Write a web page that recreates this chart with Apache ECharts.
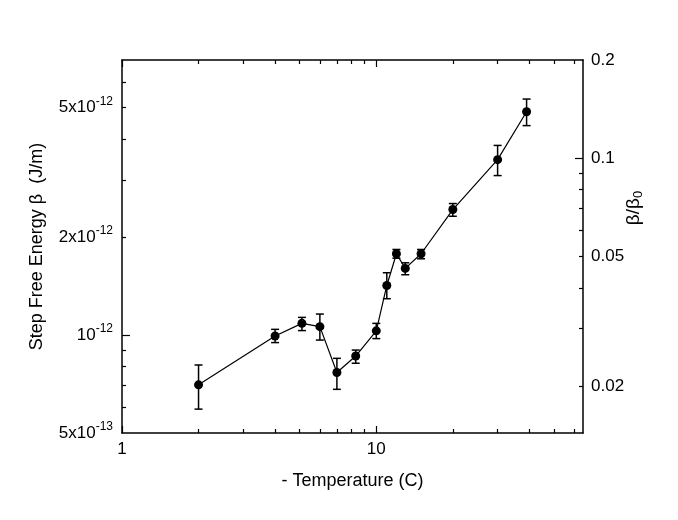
<!DOCTYPE html>
<html>
<head>
<meta charset="utf-8">
<script src="https://cdn.jsdelivr.net/npm/echarts@6/dist/echarts.min.js"></script>
<style>
html, body { margin: 0; padding: 0; background: #fff; }
#chart { width: 678px; height: 520px; }
</style>
</head>
<body>
<div id="chart"></div>
<script>
// data
var temps = [2, 4, 5.1, 6, 7, 8.3, 10, 11, 12, 13, 15, 20, 30, 39];
var beta = [0.703e-12, 0.993e-12, 1.086e-12, 1.061e-12, 0.767e-12, 0.862e-12, 1.03e-12,
	1.42e-12, 1.777e-12, 1.602e-12, 1.777e-12, 2.43e-12, 3.459e-12, 4.855e-12];
var betaLow = [0.592e-12, 0.948e-12, 1.032e-12, 0.965e-12, 0.681e-12, 0.819e-12, 0.975e-12,
	1.293e-12, 1.722e-12, 1.532e-12, 1.715e-12, 2.317e-12, 3.09e-12, 4.40e-12];
var betaHigh = [0.809e-12, 1.041e-12, 1.133e-12, 1.160e-12, 0.848e-12, 0.899e-12, 1.086e-12,
	1.554e-12, 1.832e-12, 1.667e-12, 1.832e-12, 2.535e-12, 3.825e-12, 5.31e-12];

// ticks
var xLabelValues = [1, 10];
var xLabelTexts = ['1', '10'];
var xMajorTicks = [1, 10];
var xMinorTicks = [2, 3, 4, 5, 6, 7, 8, 9, 20, 30, 40, 50, 60];
var yLabelValues = [5e-13, 1e-12, 2e-12, 5e-12];
var yLabelTexts = ['5x10{sup|-13}', '10{sup|-12}', '2x10{sup|-12}', '5x10{sup|-12}'];
var yMajorTicks = [1e-12];
var yMinorTicks = [6e-13, 7e-13, 8e-13, 9e-13, 2e-12, 3e-12, 4e-12, 5e-12, 6e-12];
var rLabelValues = [0.02, 0.05, 0.1, 0.2];
var rLabelTexts = ['0.02', '0.05', '0.1', '0.2'];
var rMajorTicks = [0.1];
var rMinorTicks = [0.02, 0.03, 0.04, 0.05, 0.06, 0.07, 0.08, 0.09];

var xMin = 1, xMax = 65;
var yMin = 5e-13, yMax = 7e-12;
var rMin = 0.01435, rMax = 0.2;

var FONT = 'Liberation Sans';

function pick(values, texts) {
	return function (v) {
		for (var i = 0; i < values.length; i++) {
			if (Math.abs(v - values[i]) <= Math.abs(values[i]) * 1e-6) {
				return texts[i];
			}
		}
		return '';
	};
}

var points = [], bars = [];
for (var i = 0; i < temps.length; i++) {
	points.push([temps[i], beta[i]]);
	bars.push([temps[i], betaLow[i], betaHigh[i]]);
}

function makeAxis(opt) {
	var a = {
		type: 'log',
		logBase: 10,
		min: opt.min,
		max: opt.max,
		position: opt.position,
		splitLine: { show: false },
		axisLine: { show: opt.line, onZero: false, lineStyle: { color: '#000', width: 1.5 } },
		axisTick: {
			show: true,
			inside: true,
			length: opt.tickLen,
			customValues: opt.ticks,
			lineStyle: { color: '#000', width: 1.2 }
		},
		axisLabel: { show: false }
	};
	if (opt.labels) {
		a.axisLabel = {
			show: true,
			customValues: opt.labels,
			formatter: pick(opt.labels, opt.texts),
			margin: opt.margin,
			color: '#000',
			fontFamily: FONT,
			fontSize: 17,
			rich: {
				sup: { fontSize: 12, fontFamily: FONT, color: '#000', verticalAlign: 'top', padding: [0, 0, 12, 0] }
			}
		};
	}
	return a;
}

var myChart = echarts.init(document.getElementById('chart'));

var xAxes = [
	makeAxis({ min: xMin, max: xMax, position: 'bottom', line: true, tickLen: 7, ticks: xMajorTicks,
		labels: xLabelValues, texts: xLabelTexts, margin: 8 }),
	makeAxis({ min: xMin, max: xMax, position: 'bottom', line: false, tickLen: 4, ticks: xMinorTicks }),
	makeAxis({ min: xMin, max: xMax, position: 'top', line: true, tickLen: 7, ticks: xMajorTicks }),
	makeAxis({ min: xMin, max: xMax, position: 'top', line: false, tickLen: 4, ticks: xMinorTicks })
];
xAxes[0].name = '- Temperature (C)';
xAxes[0].nameLocation = 'middle';
xAxes[0].nameGap = 39;
xAxes[0].nameTextStyle = { fontFamily: FONT, fontSize: 18, color: '#000' };

var yAxes = [
	makeAxis({ min: yMin, max: yMax, position: 'left', line: true, tickLen: 8, ticks: yMajorTicks,
		labels: yLabelValues, texts: yLabelTexts, margin: 9 }),
	makeAxis({ min: yMin, max: yMax, position: 'left', line: false, tickLen: 4, ticks: yMinorTicks }),
	makeAxis({ min: rMin, max: rMax, position: 'right', line: true, tickLen: 8, ticks: rMajorTicks,
		labels: rLabelValues, texts: rLabelTexts, margin: 8 }),
	makeAxis({ min: rMin, max: rMax, position: 'right', line: false, tickLen: 4, ticks: rMinorTicks })
];
yAxes[0].name = 'Step Free Energy \u03b2  (J/m)';
yAxes[0].nameLocation = 'middle';
yAxes[0].nameGap = 76;
yAxes[0].nameTextStyle = { fontFamily: FONT, fontSize: 18, color: '#000' };

var option = {
	animation: false,
	backgroundColor: '#fff',
	grid: { left: 122, right: 95, top: 60, bottom: 87, containLabel: false },
	xAxis: xAxes,
	yAxis: yAxes,
	graphic: [{
		type: 'text',
		x: 634,
		y: 208,
		rotation: Math.PI / 2,
		style: {
			text: '\u03b2/\u03b2{sub|0}',
			fontFamily: FONT,
			fontSize: 19,
			fill: '#000',
			align: 'center',
			verticalAlign: 'middle',
			rich: {
				sub: { fontSize: 13, fontFamily: FONT, verticalAlign: 'bottom', padding: [8, 0, 0, 0] }
			}
		}
	}],
	series: [{
		name: 'err',
		type: 'custom',
		xAxisIndex: 0,
		yAxisIndex: 0,
		z: 2,
		data: bars,
		renderItem: function (params, api) {
			var x = api.value(0);
			var lo = api.coord([x, api.value(1)]);
			var hi = api.coord([x, api.value(2)]);
			var w = 4;
			var st = { stroke: '#000', lineWidth: 1.5 };
			return {
				type: 'group',
				children: [
					{ type: 'line', shape: { x1: lo[0], y1: lo[1], x2: hi[0], y2: hi[1] }, style: st },
					{ type: 'line', shape: { x1: lo[0] - w, y1: lo[1], x2: lo[0] + w, y2: lo[1] }, style: st },
					{ type: 'line', shape: { x1: hi[0] - w, y1: hi[1], x2: hi[0] + w, y2: hi[1] }, style: st }
				]
			};
		}
	}, {
		name: 'beta',
		type: 'line',
		xAxisIndex: 0,
		yAxisIndex: 0,
		z: 3,
		data: points,
		symbol: 'circle',
		symbolSize: 9,
		itemStyle: { color: '#000' },
		lineStyle: { color: '#000', width: 1.2 }
	}]
};
myChart.setOption(option);
</script>
</body>
</html>
